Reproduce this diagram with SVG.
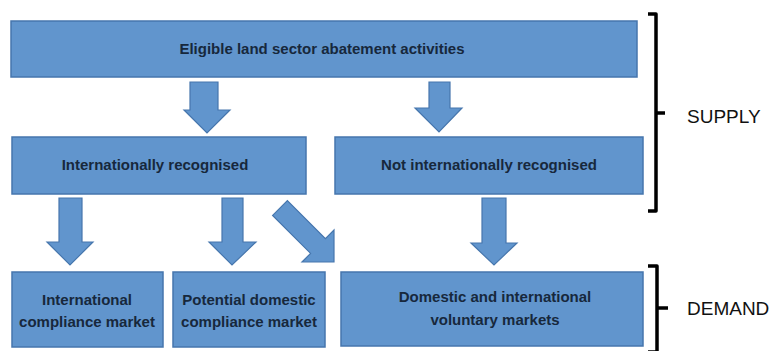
<svg xmlns="http://www.w3.org/2000/svg" width="776" height="351" viewBox="0 0 776 351">
<style>
.box{fill:#6195cd;stroke:#4676ad;stroke-width:1.5}
.arr{fill:#6195cd;stroke:#4676ad;stroke-width:1.2}
.t{font-family:"Liberation Sans",Arial,sans-serif;font-weight:bold;font-size:15px;fill:#17283c;text-anchor:middle}
.lab{font-family:"Liberation Sans",Arial,sans-serif;font-size:19px;fill:#111}
.br{fill:none;stroke:#000;stroke-width:3.5;stroke-linejoin:round}
</style>
<rect width="776" height="351" fill="#fff"/>
<g id="n1"><rect class="box" x="11" y="21" width="626" height="56"/><text class="t" x="322" y="54">Eligible land sector abatement activities</text></g>
<g id="n2"><rect class="box" x="12" y="137" width="294" height="57"/><text class="t" x="155" y="170">Internationally recognised</text></g>
<g id="n3"><rect class="box" x="335" y="137" width="308" height="57"/><text class="t" x="489" y="170">Not internationally recognised</text></g>
<g id="n4"><rect class="box" x="12" y="272" width="151" height="75"/><text class="t" x="87" y="305">International</text><text class="t" x="87" y="327">compliance market</text></g>
<g id="n5"><rect class="box" x="173" y="272" width="152" height="75"/><text class="t" x="249" y="305">Potential domestic</text><text class="t" x="249" y="327">compliance market</text></g>
<g id="n6"><rect class="box" x="341" y="272" width="302" height="74"/><text class="t" x="495" y="302">Domestic and international</text><text class="t" x="495" y="325">voluntary markets</text></g>
<g id="connectors">
<polygon class="arr" points="190,82 218,82 218,110 230,110 207,133 184,110 190,110"/>
<polygon class="arr" points="429,82 450,82 450,108 462,108 439,132 415,108 429,108"/>
<polygon class="arr" points="59,198 82,198 82,242 93,242 70,265 47,242 59,242"/>
<polygon class="arr" points="222,198 243,198 243,242 256,242 232,265 209,242 222,242"/>
<polygon class="arr" points="287.4,200.6 325.4,238.6 334,230 334,262 302,262 310.6,253.4 272.6,215.4"/>
<polygon class="arr" points="482,198 506,198 506,243 517,243 494,265 471,243 482,243"/>
</g>
<g id="supply"><path class="br" d="M648,14 L656,14 L656,113 L665,113 M656,113 L656,211 L648,211"/><text class="lab" x="687" y="123">SUPPLY</text></g>
<g id="demand"><path class="br" d="M648,266 L657,266 L657,308 L668,308 M657,308 L657,352 L648,352"/><text class="lab" x="687" y="315">DEMAND</text></g>
</svg>
